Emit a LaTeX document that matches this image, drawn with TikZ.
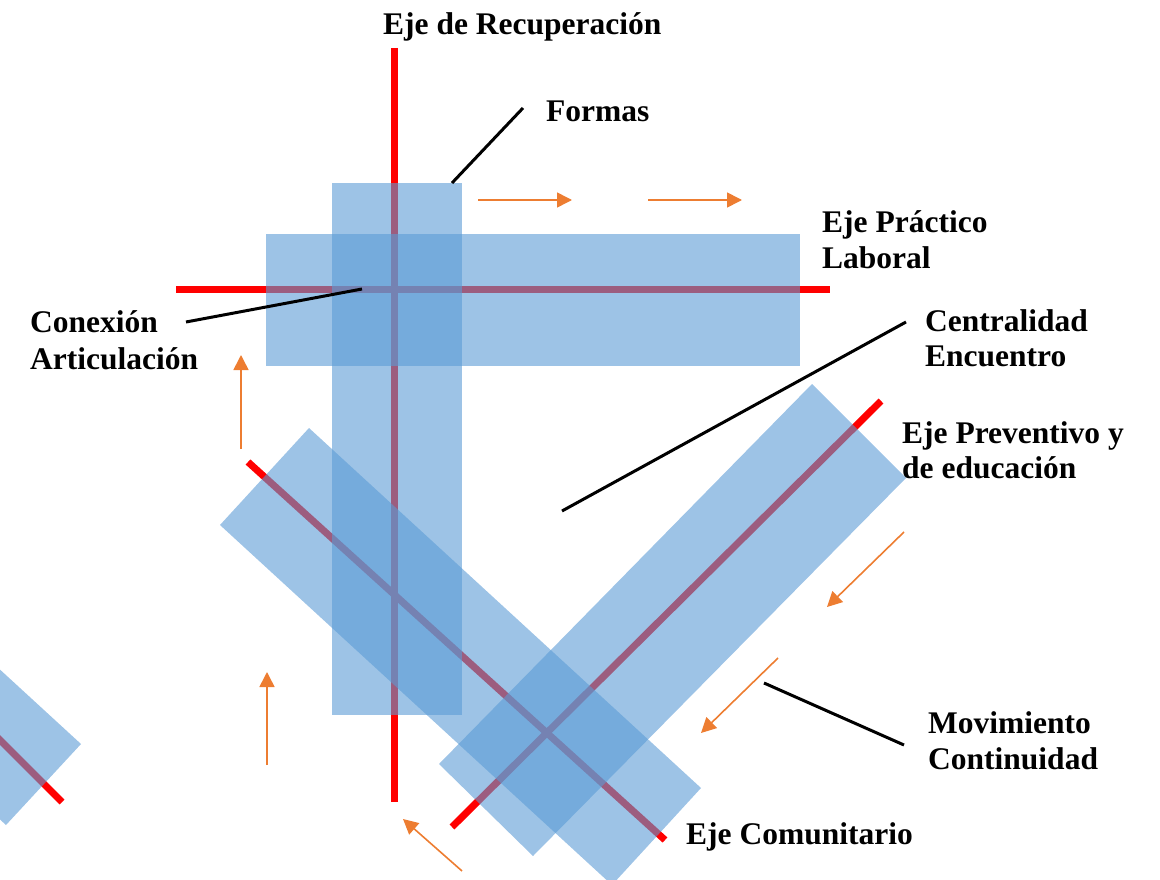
\documentclass[tikz,border=0pt]{standalone}
\usepackage{fontspec}
\setmainfont{Liberation Serif}
\usetikzlibrary{arrows.meta}
\definecolor{axisred}{RGB}{255,0,0}
\definecolor{bandblue}{RGB}{91,155,213}
\definecolor{flow}{RGB}{237,125,49}
\tikzset{
  axisline/.style={draw=axisred,line width=7pt},
  band/.style={fill=bandblue,fill opacity=0.6,draw=none},
  leader/.style={draw=black,line width=3pt},
  flowarrow/.style={draw=flow,line width=1.6pt,-{Triangle[length=15pt,width=15pt]}},
  lbl/.style={anchor=base west,inner sep=0pt,font=\fontsize{31.5}{36}\selectfont\bfseries}
}
\begin{document}
\begin{tikzpicture}[x=1pt,y=-1pt]
\useasboundingbox (0,0) rectangle (1160,880);
\clip (0,0) rectangle (1160,880);
% red axes
\coordinate (vt) at (394,48); \coordinate (vb) at (394,802);
\coordinate (hl) at (176,289); \coordinate (hr) at (830,289);
\coordinate (at) at (248,462); \coordinate (ab) at (665,840);
\coordinate (bb) at (452,827); \coordinate (bt) at (881,401);
\coordinate (ct) at (-20,720); \coordinate (cb) at (62,802);
\draw[axisline] (vt) -- (vb);
\draw[axisline] (hl) -- (hr);
\draw[axisline] (at) -- (ab);
\draw[axisline] (bb) -- (bt);
\draw[axisline] (ct) -- (cb);
% bands
\fill[band] (332,183) rectangle (462,715);
\fill[band] (266,234) rectangle (800,366);
\fill[band] (309,428) -- (701,788) -- (612,885) -- (220,525) -- cycle;
\fill[band] (439,764) -- (812,384) -- (906,478) -- (533,856) -- cycle;
\fill[band] (81,744) -- (6,825) -- (-386,465) -- (-311,384) -- cycle;
% labels
\node[lbl] (recup) at (383,35) {Eje de Recuperación};
\node[lbl] (formas) at (546,122) {Formas};
\node[lbl] (prac1) at (822,233) {Eje Práctico};
\node[lbl] (prac2) at (822,268) {Laboral};
\node[lbl] (con1) at (30,332) {Conexión};
\node[lbl] (con2) at (30,369) {Articulación};
\node[lbl] (cen1) at (925,331) {Centralidad};
\node[lbl] (cen2) at (925,366) {Encuentro};
\node[lbl] (prev1) at (902,443) {Eje Preventivo y};
\node[lbl] (prev2) at (902,478) {de educación};
\node[lbl] (mov1) at (928,733) {Movimiento};
\node[lbl] (mov2) at (928,769) {Continuidad};
\node[lbl] (com) at (686,844) {Eje Comunitario};
% leader lines
\coordinate (fa) at (452,183); \coordinate (fb) at (523,108);
\coordinate (ka) at (186,322); \coordinate (kb) at (362,289);
\coordinate (za) at (562,511); \coordinate (zb) at (906,322);
\coordinate (ma) at (764,683); \coordinate (mb) at (904,745);
\draw[leader] (fa) -- (fb);
\draw[leader] (ka) -- (kb);
\draw[leader] (za) -- (zb);
\draw[leader] (ma) -- (mb);
% flow arrows
\coordinate (a1s) at (478,200); \coordinate (a1e) at (572,200);
\coordinate (a2s) at (648,200); \coordinate (a2e) at (742,200);
\coordinate (a3s) at (241,449); \coordinate (a3e) at (241,355);
\coordinate (a4s) at (267,765); \coordinate (a4e) at (267,672);
\coordinate (a5s) at (904,532); \coordinate (a5e) at (827,607);
\coordinate (a6s) at (778,658); \coordinate (a6e) at (701,733);
\coordinate (a7s) at (462,871); \coordinate (a7e) at (403,819);
\draw[flowarrow] (a1s) -- (a1e);
\draw[flowarrow] (a2s) -- (a2e);
\draw[flowarrow] (a3s) -- (a3e);
\draw[flowarrow] (a4s) -- (a4e);
\draw[flowarrow] (a5s) -- (a5e);
\draw[flowarrow] (a6s) -- (a6e);
\draw[flowarrow] (a7s) -- (a7e);
\end{tikzpicture}
\end{document}
